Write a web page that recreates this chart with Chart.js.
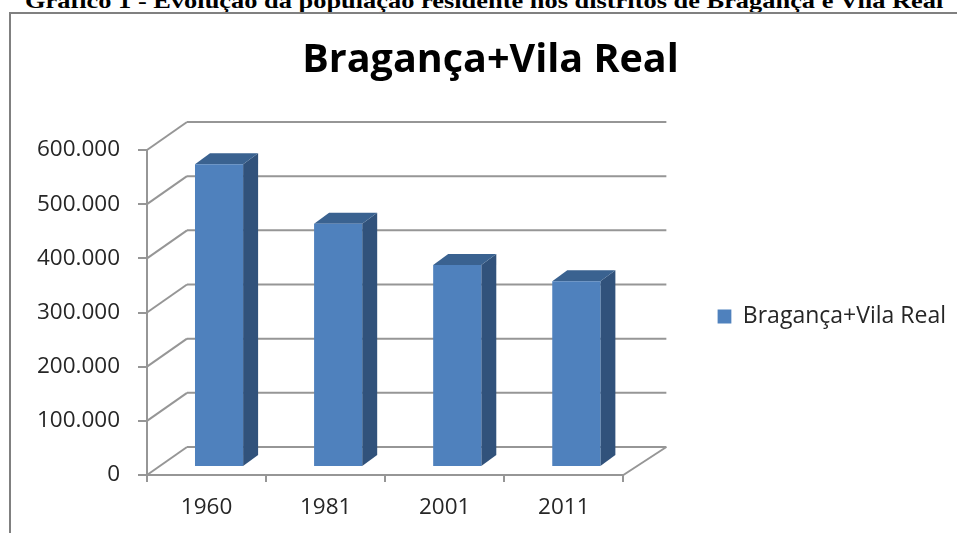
<!DOCTYPE html>
<html>
<head>
<meta charset="utf-8">
<style>
  html, body { margin: 0; padding: 0; background: #fff; overflow: hidden; }
  #page { position: relative; width: 957px; height: 533px; overflow: hidden; }
  #caption { position: absolute; left: 25px; top: -12px; white-space: nowrap; font: bold 22px "Liberation Serif", serif; color: #000; transform: scaleX(1.2); transform-origin: left top; }
  #frame { position: absolute; left: 9px; top: 12px; width: 960px; height: 540px; border-left: 2px solid #808080; border-top: 2px solid #808080; }
  #wrap { position: absolute; left: 0; top: 0; width: 957px; height: 533px; }
</style>
</head>
<body>
<div id="page">
  <div id="caption">Gráfico 1 - Evolução da população residente nos distritos de Bragança e Vila Real</div>
  <div id="frame"></div>
  <div id="wrap"><canvas id="chart" width="957" height="533"></canvas></div>
</div>
<script src="https://cdn.jsdelivr.net/npm/chart.js@4/dist/chart.umd.min.js"></script>
<script>
const categories = ['1960', '1981', '2001', '2011'];
const populacao = [559000, 449000, 373000, 343000];
const seriesName = 'Bragança+Vila Real';

const FRONT = '#4f81bd', SIDE = '#31527b', TOP = '#3a6290', GRID = '#969696', INK = '#262626';
const TICK_FONT = { family: 'Open Sans', size: 22.5 };
// depth of the fake 3d floor, and how far the bars sit into it
const WALL_DX = 40, WALL_DY = 28, BAR_DX = 12.5, BAR_DY = 8, BOX_DX = 15, BOX_DY = 11;

function line(ctx, x1, y1, x2, y2) {
  ctx.beginPath();
  ctx.moveTo(x1, y1);
  ctx.lineTo(x2, y2);
  ctx.stroke();
}

function face(ctx, pts, color) {
  ctx.fillStyle = color;
  ctx.beginPath();
  pts.forEach((p, i) => i ? ctx.lineTo(p[0], p[1]) : ctx.moveTo(p[0], p[1]));
  ctx.closePath();
  ctx.fill();
}

const fake3d = {
  id: 'fake3d',
  afterLayout(chart) {
    // legend sits a little under the middle of the plot
    chart.legend.top += 4;
    chart.legend.bottom += 4;
  },
  beforeDatasetsDraw(chart) {
    const ctx = chart.ctx, area = chart.chartArea, y = chart.scales.y;
    ctx.save();
    ctx.strokeStyle = GRID;
    ctx.lineWidth = 2;
    y.ticks.forEach(t => {
      const py = y.getPixelForValue(t.value);
      line(ctx, area.left, py, area.left + WALL_DX, py - WALL_DY);
      line(ctx, area.left + WALL_DX, py - WALL_DY, area.right + WALL_DX + 3, py - WALL_DY);
    });
    // right edge of the floor
    line(ctx, area.right, area.bottom, area.right + WALL_DX + 3, area.bottom - WALL_DY);
    ctx.restore();

    // bars stand in the middle of the floor, so shift them and add the side + top
    ctx.save();
    ctx.translate(BAR_DX, -BAR_DY);
    chart.getDatasetMeta(0).data.forEach(bar => {
      const { x, y: top, base, width } = bar.getProps(['x', 'y', 'base', 'width'], true);
      const r = x + width / 2, l = x - width / 2;
      face(ctx, [[r, top], [r + BOX_DX, top - BOX_DY], [r + BOX_DX, base - BOX_DY], [r, base]], SIDE);
      face(ctx, [[l, top], [l + BOX_DX, top - BOX_DY], [r + BOX_DX, top - BOX_DY], [r, top]], TOP);
    });
  },
  afterDatasetsDraw(chart) {
    chart.ctx.restore();
  }
};

new Chart(document.getElementById('chart'), {
  type: 'bar',
  data: {
    labels: categories,
    datasets: [{
      label: seriesName,
      data: populacao,
      backgroundColor: FRONT,
      barPercentage: 0.404,
      categoryPercentage: 1
    }]
  },
  plugins: [fake3d],
  options: {
    responsive: false,
    animation: false,
    layout: { padding: { left: 25, right: 1, top: 0, bottom: 0 } },
    scales: {
      x: {
        offset: true,
        afterFit(s) { s.height = 58; },
        border: { display: true, color: GRID, width: 2 },
        grid: { drawOnChartArea: false, drawTicks: true, tickLength: 7, color: GRID, lineWidth: 2 },
        ticks: { color: INK, padding: 12, font: TICK_FONT, maxRotation: 0 }
      },
      y: {
        min: 0,
        max: 600000,
        afterFit(s) { s.width = 122; },
        border: { display: true, color: GRID, width: 2 },
        grid: { drawOnChartArea: false, drawTicks: true, tickLength: 9, color: GRID, lineWidth: 2 },
        ticks: {
          stepSize: 100000,
          color: INK,
          padding: 18,
          font: TICK_FONT,
          callback: v => String(v).replace(/\B(?=(\d{3})+$)/g, '.')
        }
      },
      // empty scale, only keeps the gap between the plot and the legend
      legendGap: {
        type: 'linear',
        position: 'right',
        afterFit(s) { s.width = 94; },
        ticks: { display: false },
        grid: { display: false },
        border: { display: false }
      }
    },
    plugins: {
      tooltip: { enabled: false },
      title: {
        display: true,
        text: seriesName,
        color: '#000',
        font: { family: 'Open Sans', size: 39.5, weight: 'bold' },
        padding: { top: 37, bottom: 65.6 }
      },
      legend: {
        position: 'right',
        fullSize: false,
        maxWidth: 260,
        labels: {
          color: INK,
          boxWidth: 14,
          boxHeight: 14,
          padding: 0,
          font: { family: 'Open Sans', size: 23 }
        }
      }
    }
  }
});
</script>
</body>
</html>
